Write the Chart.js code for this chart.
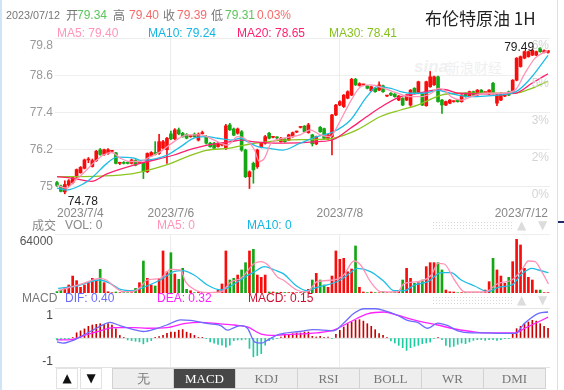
<!DOCTYPE html>
<html>
<head>
<meta charset="utf-8">
<title>布伦特原油 1H</title>
<script src="https://cdn.jsdelivr.net/npm/chart.js@4.4.0/dist/chart.umd.min.js"></script>
<style>
  body { margin: 0; background: #fff; }
  #box { position: relative; width: 564px; height: 390px; overflow: hidden; font-family: "Liberation Sans", Arial, sans-serif; }
  #box canvas { position: absolute; left: 0; top: 0; }
  .t { position: absolute; white-space: nowrap; font-size: 12px; line-height: 14px; }
  .cn { font-family: "Noto Sans CJK SC", sans-serif; }
  .dots { position: absolute; left: 432px; width: 80px; height: 8px;
    background-image: radial-gradient(#d9d9d9 0.9px, transparent 1px); background-size: 3px 3px; }
  .tri { position: absolute; font-family: "DejaVu Sans", sans-serif; font-size: 12px; color: #dcdcdc; line-height: 14px; }
  .btn { position: absolute; top: 368px; width: 22px; height: 21px; box-sizing: border-box; border: 1px solid #e2e2e2;
    text-align: center; font-family: "DejaVu Sans", sans-serif; font-size: 12px; line-height: 19px; color: #111; }
  #tabs { position: absolute; left: 112px; top: 368px; display: flex; }
  #tabs div { width: 62px; height: 21px; box-sizing: border-box; border: 1px solid #d2d2d2; border-left: none;
    background: #eee; color: #777; text-align: center; font-family: "Liberation Serif", serif; font-size: 13px; line-height: 19px; }
  #tabs div:first-child { border-left: 1px solid #d2d2d2; }
  #tabs div.on { background: #474747; color: #fff; }
</style>
</head>
<body>
<div id="box">
  <!-- watermark, under the plots -->
  <div class="t" style="left:414px;top:58px;color:#f0f0f0;font:italic bold 17px 'Liberation Sans',Arial,sans-serif;line-height:18px;">sina</div>
  <div class="t cn" style="left:446px;top:59px;color:#f0f0f0;font-size:14px;line-height:16px;">新浪财经</div>

  <canvas id="main" width="564" height="390"></canvas>
  <canvas id="vol" width="564" height="390"></canvas>
  <canvas id="macd" width="564" height="390"></canvas>

  <div style="position:absolute;left:0;top:0;width:2px;height:390px;background:#cfe5f5;"></div>
  <div style="position:absolute;left:557px;top:0;width:1px;height:390px;background:#d5e2ec;"></div>
  <div style="position:absolute;left:558px;top:221px;width:6px;height:2px;background:#1f2d6e;"></div>

  <!-- quote header -->
  <div class="t" style="left:6px;top:8px;color:#777;font-size:10.8px;">2023/07/12</div>
  <div class="t cn" style="left:66px;top:8px;color:#777;">开</div>
  <div class="t" style="left:77px;top:8px;color:#5cc45c;">79.34</div>
  <div class="t cn" style="left:113px;top:8px;color:#777;">高</div>
  <div class="t" style="left:129px;top:8px;color:#f56b6b;">79.40</div>
  <div class="t cn" style="left:163px;top:8px;color:#777;">收</div>
  <div class="t" style="left:177px;top:8px;color:#f56b6b;">79.39</div>
  <div class="t cn" style="left:211px;top:8px;color:#777;">低</div>
  <div class="t" style="left:225px;top:8px;color:#5cc45c;">79.31</div>
  <div class="t" style="left:257px;top:8px;color:#f56b6b;">0.03%</div>

  <div class="t" style="left:57px;top:26px;color:#ff96b9;">MA5: 79.40</div>
  <div class="t" style="left:148px;top:26px;color:#14b6e4;">MA10: 79.24</div>
  <div class="t" style="left:237px;top:26px;color:#ff1f6e;">MA20: 78.65</div>
  <div class="t" style="left:329px;top:26px;color:#86c21c;">MA30: 78.41</div>

  <div class="t cn" style="left:425px;top:7px;font-size:17px;line-height:22px;color:#222;">布伦特原油 1H</div>

  <!-- volume header -->
  <div class="t cn" style="left:32px;top:218px;color:#888;">成交</div>
  <div class="t" style="left:65px;top:218px;color:#888;">VOL: 0</div>
  <div class="t" style="left:157px;top:218px;color:#ff96b9;">MA5: 0</div>
  <div class="t" style="left:247px;top:218px;color:#14b6e4;">MA10: 0</div>
  <div class="dots" style="top:221px;"></div>
  <div class="tri" style="left:517px;top:218px;">▲</div>
  <div class="tri" style="left:538px;top:218px;">▼</div>

  <!-- macd header -->
  <div class="t" style="left:22px;top:291px;color:#777;">MACD</div>
  <div class="t" style="left:65px;top:291px;color:#6b6bff;">DIF: 0.40</div>
  <div class="t" style="left:157px;top:291px;color:#ff22ff;">DEA: 0.32</div>
  <div class="t" style="left:248px;top:291px;color:#cc1133;">MACD: 0.15</div>
  <div class="dots" style="top:296px;"></div>
  <div class="tri" style="left:517px;top:293px;">▲</div>
  <div class="tri" style="left:538px;top:293px;">▼</div>

  <div class="btn" style="left:56px;">▲</div>
  <div class="btn" style="left:80px;">▼</div>
  <div id="tabs">
    <div class="cn">无</div><div class="on">MACD</div><div>KDJ</div><div>RSI</div><div>BOLL</div><div>WR</div><div>DMI</div>
  </div>
</div>

<script>
// hourly candles, 2023/7/4 .. 2023/7/12, index 0 = first bar on the left
const openP = [
  75.14, 75.03, 74.84, 75.06, 75.14, 75.32, 75.46, 75.60, 75.87, 75.66,
  75.85, 76.20, 76.05, 76.08, 76.15, 76.10, 75.76, 75.79, 75.79, 75.76,
  75.86, 75.77, 75.76, 75.49, 76.00, 76.11, 76.08, 76.25, 76.20, 76.71,
  76.55, 76.84, 76.73, 76.68, 76.62, 76.70, 76.51, 76.72, 76.62, 76.41,
  76.41, 76.30, 76.35, 76.25, 77.00, 76.87, 76.73, 76.78, 76.19, 75.33,
  75.76, 75.65, 76.30, 76.41, 76.73, 76.60, 76.60, 76.46, 76.54, 76.51,
  76.62, 76.77, 76.92, 76.96, 76.75, 76.68, 76.39, 76.92, 76.88, 76.55,
  76.62, 77.32, 77.64, 77.59, 77.86, 77.96, 78.47, 78.27, 78.29, 78.26,
  78.10, 78.18, 78.12, 78.26, 77.93, 78.02, 77.99, 77.80, 77.86, 77.80,
  77.64, 78.18, 78.02, 78.02, 77.62, 78.23, 78.29, 78.55, 77.80, 77.64,
  77.70, 77.75, 77.80, 77.75, 78.02, 77.91, 78.07, 77.96, 78.12, 78.04,
  78.00, 78.34, 77.70, 77.80, 77.93, 78.07, 78.07, 78.44, 78.88, 79.15,
  79.20, 79.25, 79.25, 79.47, 79.34, 79.34
];
const highP = [
  75.18, 75.06, 75.20, 75.24, 75.34, 75.58, 75.66, 75.90, 75.95, 75.90,
  76.18, 76.24, 76.22, 76.24, 76.18, 76.12, 75.80, 75.82, 75.81, 75.90,
  75.88, 75.80, 75.78, 76.10, 76.14, 76.46, 76.70, 76.50, 76.60, 76.80,
  76.88, 76.90, 76.76, 76.72, 76.65, 76.74, 76.74, 76.80, 76.66, 76.44,
  76.44, 76.44, 76.42, 77.02, 77.05, 76.90, 76.90, 76.82, 76.22, 75.52,
  75.80, 76.22, 76.44, 76.66, 76.76, 76.62, 76.62, 76.60, 76.56, 76.70,
  76.77, 76.80, 76.94, 76.98, 77.05, 76.70, 76.64, 76.95, 76.90, 76.70,
  77.34, 77.66, 77.78, 77.98, 78.10, 78.50, 78.50, 78.36, 78.31, 78.28,
  78.25, 78.20, 78.39, 78.28, 77.95, 78.04, 78.01, 77.95, 77.88, 77.98,
  78.14, 78.20, 78.41, 78.05, 78.41, 78.72, 78.57, 78.57, 77.82, 77.77,
  77.82, 77.77, 77.82, 77.98, 78.04, 78.09, 78.09, 78.14, 78.14, 78.06,
  78.14, 78.37, 77.98, 78.04, 77.95, 78.09, 78.46, 79.17, 79.22, 79.38,
  79.38, 79.43, 79.38, 79.49, 79.42, 79.40
];
const lowP = [
  75.02, 74.84, 74.78, 75.02, 75.10, 75.30, 75.44, 75.58, 75.78, 75.64,
  75.82, 76.02, 76.02, 76.05, 76.12, 75.74, 75.72, 75.74, 75.74, 75.74,
  75.68, 75.75, 75.27, 75.46, 75.98, 76.03, 76.05, 76.22, 75.76, 76.52,
  76.52, 76.68, 76.60, 76.55, 76.60, 76.60, 76.48, 76.70, 76.38, 76.28,
  76.22, 76.28, 76.32, 76.20, 76.82, 76.65, 76.70, 76.15, 75.30, 74.95,
  75.12, 75.60, 76.26, 76.38, 76.55, 76.58, 76.56, 76.44, 76.44, 76.49,
  76.60, 76.75, 76.90, 76.76, 76.73, 76.32, 76.36, 76.76, 76.55, 76.52,
  76.03, 77.30, 77.62, 77.56, 77.84, 77.94, 78.27, 78.25, 78.27, 78.16,
  78.08, 78.05, 78.10, 78.05, 77.91, 77.94, 77.89, 77.78, 77.62, 77.78,
  77.60, 78.00, 78.00, 77.62, 77.60, 78.21, 78.27, 77.73, 77.37, 77.62,
  77.68, 77.73, 77.73, 77.73, 77.89, 77.89, 77.94, 77.94, 78.00, 78.02,
  77.98, 78.00, 77.62, 77.78, 77.91, 77.94, 78.05, 78.42, 78.86, 79.13,
  79.18, 79.23, 79.23, 79.34, 79.32, 79.31
];
const closeP = [
  75.05, 74.86, 75.08, 75.20, 75.30, 75.56, 75.63, 75.87, 75.89, 75.85,
  76.15, 76.05, 76.20, 76.20, 76.16, 75.76, 75.77, 75.76, 75.76, 75.87,
  75.70, 75.78, 75.49, 76.08, 76.11, 76.05, 76.46, 76.46, 76.57, 76.55,
  76.84, 76.71, 76.62, 76.57, 76.63, 76.62, 76.70, 76.73, 76.41, 76.30,
  76.25, 76.41, 76.40, 76.97, 76.84, 76.67, 76.87, 76.19, 75.33, 75.49,
  75.55, 76.19, 76.41, 76.62, 76.57, 76.60, 76.58, 76.57, 76.46, 76.68,
  76.75, 76.79, 76.92, 76.78, 77.00, 76.39, 76.62, 76.78, 76.57, 76.68,
  77.32, 77.64, 77.75, 77.96, 78.07, 78.47, 78.29, 78.33, 78.29, 78.18,
  78.23, 78.07, 78.29, 78.07, 77.93, 77.96, 77.91, 77.93, 77.64, 77.96,
  78.12, 78.02, 78.39, 77.64, 78.39, 78.55, 78.55, 77.75, 77.64, 77.75,
  77.80, 77.75, 77.75, 77.96, 77.91, 78.07, 77.96, 78.12, 78.02, 78.04,
  78.12, 78.02, 77.96, 78.02, 77.93, 77.96, 78.44, 79.15, 79.20, 79.36,
  79.36, 79.41, 79.36, 79.36, 79.39, 79.39
];
const volume = [
  1500, 3200, 5000, 8700, 18400, 13400, 6200, 8700, 11200, 15900,
  14100, 25700, 11200, 1400, 360, 1100, 360, 360, 360, 360,
  5000, 11200, 34700, 15900, 8700, 7600, 15900, 45600, 23100, 43700,
  20600, 14800, 26800, 4000, 2500, 360, 1000, 600, 600, 600,
  800, 3000, 9800, 45600, 14100, 15900, 19500, 25000, 32900, 45600,
  47400, 19500, 17000, 19500, 1100, 1100, 500, 800, 600, 500,
  500, 400, 400, 1000, 4000, 14100, 21300, 14100, 8700, 6200,
  18400, 45600, 36500, 37600, 23100, 26000, 51000, 6200, 1100, 400,
  1100, 400, 300, 1400, 400, 300, 1400, 2200, 14100, 26800,
  15900, 10500, 11200, 14100, 28600, 32900, 32900, 32900, 25000, 3200,
  1400, 1100, 300, 400, 700, 300, 400, 300, 400, 3200,
  12300, 37600, 25000, 18400, 10500, 17000, 34000, 58200, 52100, 26800,
  17000, 14100, 3200, 3200, 400, 360
];
const macdHist = [
  -0.03, -0.03, -0.02, -0.01, 0.01, 0.08, 0.11, 0.14, 0.18, 0.20,
  0.21, 0.22, 0.21, 0.22, 0.20, 0.14, 0.04, 0.01, -0.03, -0.04,
  -0.05, -0.06, -0.09, -0.06, -0.04, 0.01, 0.02, 0.04, 0.07, 0.09,
  0.09, 0.12, 0.13, 0.09, 0.07, 0.04, 0.01, 0.005, -0.01, -0.06,
  -0.08, -0.10, -0.11, -0.14, -0.11, -0.04, -0.03, -0.03, -0.02, -0.16,
  -0.29, -0.27, -0.24, -0.11, -0.04, -0.02, -0.01, 0.015, 0.04, 0.056,
  0.067, 0.077, 0.077, 0.092, 0.092, 0.026, 0.015, 0.026, 0.01, 0.015,
  -0.01, 0.056, 0.118, 0.169, 0.22, 0.246, 0.272, 0.282, 0.26, 0.22,
  0.18, 0.128, 0.067, 0.041, 0.01, -0.046, -0.077, -0.113, -0.149, -0.19,
  -0.149, -0.128, -0.113, -0.087, -0.077, -0.062, -0.01, 0.005, -0.026, -0.113,
  -0.138, -0.128, -0.097, -0.077, -0.087, -0.062, -0.036, -0.026, -0.026, -0.036,
  -0.026, -0.026, -0.036, -0.026, -0.01, -0.005, 0.067, 0.144, 0.18, 0.22,
  0.246, 0.272, 0.26, 0.22, 0.18, 0.15
];

// moving-average lines, read as [bar index, value]
const ma5 = [[0,75.06],[2.4,74.96],[4.1,75.14],[6.7,75.44],[9.2,75.76],[11.8,76.03],[13.9,76.11],[16.1,75.93],[18.6,75.82],[21.2,75.82],[23.8,75.98],[26.4,76.14],[29.8,76.46],[33.2,76.68],[36.7,76.68],[40,76.51],[43.4,76.35],[46,76.62],[47.7,76.57],[50.3,76.19],[51.5,75.82],[52.8,75.92],[54.5,76.41],[57.6,76.57],[61.9,76.68],[64.5,76.84],[67,76.68],[69.6,76.62],[71.3,76.94],[74.7,77.75],[77.3,78.23],[79.8,78.29],[83.3,78.18],[86.7,78.02],[90.1,77.91],[92.7,77.91],[95.3,78.02],[97,78.18],[98.6,78.12],[100.3,77.91],[102.9,77.80],[105.5,77.91],[108.9,78.02],[113.2,78.02],[116.6,78.12],[119.1,78.66],[121.7,79.15],[125,79.40]];
const ma10 = [[0,74.96],[2.4,74.90],[6.7,75.10],[9.2,75.33],[12.7,75.76],[15.3,75.96],[19.6,75.93],[21.2,75.86],[23.8,75.88],[28.1,76.03],[31.5,76.30],[35,76.58],[38.3,76.62],[40.9,76.57],[44.3,76.51],[46.8,76.57],[48.5,76.46],[51.1,76.30],[53.7,76.25],[57.6,76.19],[61.9,76.41],[66.2,76.62],[70.4,76.78],[74.7,77.16],[78.9,77.91],[81.5,78.23],[85,78.18],[87.5,78.07],[90.1,78.02],[93.5,78.02],[97,78.12],[98.6,78.07],[102.1,77.96],[105.5,77.91],[108.9,77.93],[115.8,78.02],[117.5,78.12],[120.9,78.55],[125,79.24]];
const ma20 = [[0,75.33],[4,75.28],[8.8,75.18],[12.7,75.42],[21.2,75.76],[29.8,76.03],[33.2,76.18],[38.3,76.35],[44.3,76.46],[46.8,76.51],[50.3,76.45],[53.7,76.42],[57.6,76.41],[66.2,76.46],[70.4,76.53],[74.7,76.89],[78.9,77.27],[83.3,77.64],[87.5,77.91],[91.8,78.02],[96.1,78.12],[98.6,78.14],[102.1,78.02],[108.9,78.00],[116.6,78.02],[120.9,78.34],[125,78.65]];
const ma30 = [[0,75.33],[11,75.35],[19,75.42],[22,75.50],[29,75.76],[33,75.97],[38,76.18],[44,76.25],[47,76.33],[50,76.40],[54,76.46],[57.6,76.51],[66,76.53],[70.4,76.57],[76.4,76.84],[82.4,77.27],[87.5,77.48],[91.8,77.64],[97.8,77.96],[102.1,78.02],[116.6,78.02],[120.9,78.18],[125,78.41]];
const volMa5 = [[0.3,2530],[3.3,6150],[6.7,10490],[10.9,15910],[12.6,14100],[14.8,6150],[16.9,1450],[19.5,1810],[21.2,6150],[22.9,14100],[26.3,15910],[28.9,25670],[31.5,24950],[32.7,12290],[34.9,3980],[38.3,360],[41.7,1080],[44.3,12290],[46.8,15910],[50.3,32180],[52,33990],[53.7,30370],[56.2,17000],[57.6,14100],[61,3250],[63.6,1080],[66.2,12290],[70.4,14100],[73,19530],[75.6,34710],[77.3,30370],[79.8,12290],[82.4,1450],[86.7,1080],[88.4,10490],[91.8,12290],[95.3,19530],[97,32180],[98.6,31460],[101.2,14100],[103.8,1080],[108.9,1080],[112.3,10490],[115.8,14100],[118.3,24950],[120,34710],[121.7,33990],[123.4,23140],[125.1,9760]];
const volMa10 = [[0.3,5060],[5,7590],[10.9,14100],[13.5,10490],[16.1,3980],[19.5,2530],[22,6150],[26.3,14100],[29.7,23140],[31.9,24230],[34.9,19530],[38.3,8680],[41.7,3250],[44.3,7590],[47.7,17000],[50.3,23140],[52.8,28570],[55.4,24950],[57.6,21000],[61,7590],[63.6,2530],[66.2,6150],[69.6,9760],[72.1,14100],[74.7,22060],[76.4,26760],[79.8,23140],[83.3,12290],[85.8,2530],[88.4,2530],[91,8680],[94.4,12290],[97.8,22060],[100.3,22060],[102.9,14100],[106.3,7590],[109.8,1450],[112.3,6150],[115.8,8680],[118.3,20610],[120.9,26760],[122.6,24950],[125.1,22060]];
const dif = [[0,-0.06],[1.5,-0.08],[4,-0.04],[7.5,0.07],[11,0.18],[13.5,0.24],[16,0.19],[19.5,0.13],[22,0.10],[25.5,0.15],[28,0.20],[31.5,0.28],[34,0.27],[38.5,0.22],[41.7,0.19],[43.4,0.12],[45.1,0.16],[46.8,0.19],[48.5,0.15],[50.3,-0.06],[52,-0.08],[53.7,-0.03],[56.2,0.05],[57.6,0.07],[61.9,0.10],[65.3,0.13],[67.9,0.12],[70.4,0.11],[73,0.23],[75.6,0.38],[78.2,0.45],[81,0.45],[83.3,0.42],[86.7,0.35],[89.2,0.27],[91.8,0.24],[94.4,0.15],[96.9,0.23],[99.5,0.19],[102,0.11],[105.5,0.08],[109,0.08],[113,0.07],[116.6,0.07],[119.1,0.23],[122.6,0.38],[125,0.40]];
const dea = [[0,-0.03],[4,-0.02],[7.5,0.05],[11,0.11],[14.4,0.16],[19.5,0.16],[23,0.15],[28,0.16],[32.3,0.22],[36.6,0.24],[41,0.22],[45.1,0.20],[48.5,0.17],[52,0.06],[55.4,0.04],[57.6,0.05],[66.2,0.08],[70.4,0.12],[74.7,0.25],[79,0.37],[83.3,0.40],[86.7,0.35],[90.1,0.29],[93.5,0.24],[96.9,0.20],[100.3,0.15],[105.5,0.10],[108.9,0.08],[113.2,0.08],[116.6,0.08],[119.1,0.15],[122.6,0.25],[125,0.32]];

const dateTicks = [0, 29, 72, 125];
const dateLabels = ['2023/7/4', '2023/7/6', '2023/7/8', '2023/7/12'];
const priceTicks = [75, 76.2, 77.4, 78.6, 79.8];
const priceLabels = ['75', '76.2', '77.4', '78.6', '79.8'];
const pctLabels = ['0%', '2%', '3%', '5%', '6%'];
const volTicks = [64000];
const volLabels = ['64000'];
const macdTicks = [-0.446, 0, 0.4615];
const macdLabels = ['-1', '', '1'];

const FONT = '"Liberation Sans", Arial, sans-serif';
const RED = '#f80d0d';
const GREEN = '#14a614';
const candleColor = closeP.map((c, i) => (c >= openP[i] ? RED : GREEN));
const pts = (arr) => arr.map((p) => ({ x: p[0], y: p[1] }));

function line(data, color) {
  return { type: 'line', data: pts(data), borderColor: color, borderWidth: 1.3, pointRadius: 0,
    cubicInterpolationMode: 'monotone', fill: false, order: 0 };
}

function xAxis(showLabels) {
  return {
    type: 'linear', min: -0.5, max: 125.5, offset: false,
    afterBuildTicks: (s) => { s.ticks = dateTicks.map((v) => ({ value: v })); },
    afterFit: (s) => { s.height = showLabels ? 22 : 0; },
    grid: { drawTicks: false, offset: false,
      color: (c) => (c.index > 0 && c.index < dateTicks.length - 1 ? '#ececec' : 'rgba(0,0,0,0)') },
    border: { display: false },
    ticks: { display: showLabels, autoSkip: false, maxRotation: 0, align: 'inner', padding: 6,
      color: '#888', font: { family: FONT, size: 12 }, callback: (v, k) => dateLabels[k] },
  };
}

function yAxis(min, max, ticks, gridColor) {
  return {
    min: min, max: max, position: 'left',
    afterBuildTicks: (s) => { s.ticks = ticks.map((v) => ({ value: v })); },
    afterFit: (s) => { s.width = 55; },
    grid: { drawTicks: false, color: gridColor },
    border: { display: false },
    ticks: { display: false },
  };
}

/**
 * Left axis labels, kept inside the panel at its top and bottom edges
 */
function sideLabels(labels, color, right, rightColor) {
  return {
    id: 'sideLabels',
    afterDatasetsDraw(chart) {
      const { ctx, chartArea } = chart;
      const s = chart.scales.y;
      ctx.save();
      ctx.font = '12px ' + FONT;
      ctx.textBaseline = 'middle';
      s.ticks.forEach((t, k) => {
        const py = s.getPixelForValue(t.value);
        ctx.textAlign = 'right';
        ctx.fillStyle = color;
        ctx.fillText(labels[k], 53, Math.min(Math.max(py, chartArea.top + 8), chartArea.bottom - 5));
        if (right) {
          ctx.fillStyle = rightColor;
          ctx.fillText(right[k], chartArea.right - 1, py + 8);
        }
      });
      ctx.restore();
    },
  };
}

// highest high and lowest low of the window
const extremes = {
  id: 'extremes',
  afterDatasetsDraw(chart) {
    const { ctx } = chart;
    const xs = chart.scales.x;
    const ys = chart.scales.y;
    const hi = Math.max(...highP);
    const lo = Math.min(...lowP);
    ctx.save();
    ctx.font = '12px ' + FONT;
    ctx.fillStyle = '#222';
    ctx.textBaseline = 'middle';
    ctx.textAlign = 'right';
    ctx.fillText(hi.toFixed(2), xs.getPixelForValue(highP.indexOf(hi)) - 6, ys.getPixelForValue(hi));
    ctx.textAlign = 'left';
    ctx.fillText(lo.toFixed(2), xs.getPixelForValue(lowP.indexOf(lo)) + 3, ys.getPixelForValue(lo) + 8);
    ctx.restore();
  },
};

const common = {
  responsive: false, animation: false, events: [], devicePixelRatio: 1,
  plugins: { legend: { display: false }, tooltip: { enabled: false } },
};

// Price panel
new Chart(document.getElementById('main'), {
  type: 'bar',
  data: {
    datasets: [
      line(ma5, '#ff93b6'),
      line(ma10, '#1dbde6'),
      line(ma20, '#ff1f6e'),
      line(ma30, '#8cc520'),
      { data: closeP.map((c, i) => ({ x: i, y: [openP[i], c] })), backgroundColor: candleColor,
        barThickness: 3, minBarLength: 1, grouped: false, order: 1 },
      { data: highP.map((h, i) => ({ x: i, y: [lowP[i], h] })), backgroundColor: candleColor,
        barThickness: 1, grouped: false, order: 2 },
    ],
  },
  options: Object.assign({}, common, {
    layout: { padding: { top: 38, bottom: 168, left: 0, right: 14 } },
    scales: { x: xAxis(true), y: yAxis(74.58, 79.8, priceTicks, '#eeeeee') },
  }),
  plugins: [sideLabels(priceLabels, '#9a9a9a', pctLabels, '#d4d4d4'), extremes],
});

// Volume panel
new Chart(document.getElementById('vol'), {
  type: 'bar',
  data: {
    datasets: [
      line(volMa5, '#ff93b6'),
      line(volMa10, '#1dbde6'),
      { data: volume.map((v, i) => ({ x: i, y: v })), backgroundColor: candleColor,
        barThickness: 2, grouped: false, order: 1 },
    ],
  },
  options: Object.assign({}, common, {
    layout: { padding: { top: 234, bottom: 97, left: 0, right: 14 } },
    scales: { x: xAxis(false), y: yAxis(0, 64000, volTicks, '#eeeeee') },
  }),
  plugins: [sideLabels(volLabels, '#555')],
});

// MACD panel
new Chart(document.getElementById('macd'), {
  type: 'bar',
  data: {
    datasets: [
      line(dif, '#6b6bff'),
      line(dea, '#ff22ff'),
      { data: macdHist.map((v, i) => ({ x: i, y: v })),
        backgroundColor: macdHist.map((v) => (v >= 0 ? '#c80000' : '#1ccb9f')),
        barThickness: 1, grouped: false, order: 1 },
    ],
  },
  options: Object.assign({}, common, {
    layout: { padding: { top: 308, bottom: 23, left: 0, right: 14 } },
    scales: { x: xAxis(false), y: yAxis(-0.446, 0.4615, macdTicks, '#e4e4e4') },
  }),
  plugins: [sideLabels(macdLabels, '#444')],
});
</script>
</body>
</html>
